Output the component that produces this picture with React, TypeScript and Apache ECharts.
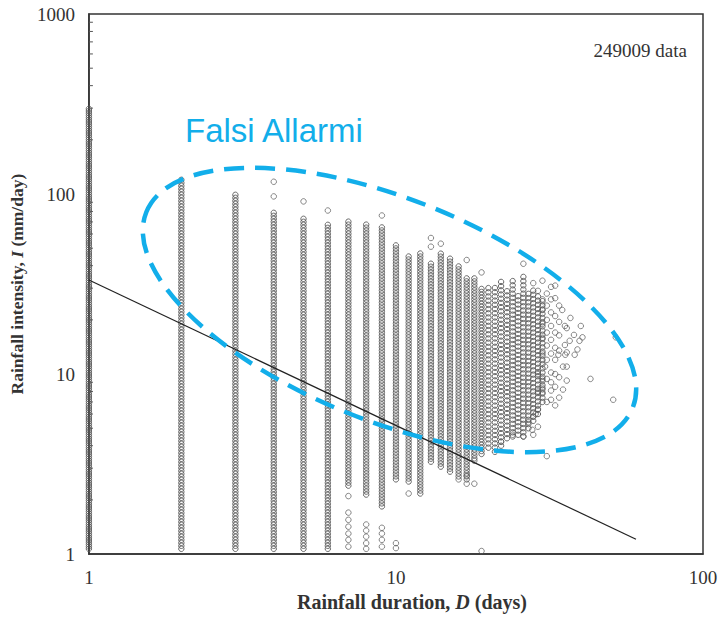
import React, { useEffect, useRef } from "react";
import * as echarts from "echarts";

// Dense columns of observations: duration D (days), lowest and highest intensity I (mm/day)
const columnDurations = [1, 2, 3, 4, 5, 6, 7, 8, 9, 10, 11, 12, 13, 14, 15, 16, 17, 18, 19, 20, 21, 22, 23, 24, 25, 26, 27, 28, 29, 30];
const columnHigh = [300, 122, 100, 81, 75, 70, 71, 68, 66, 53, 46, 48, 42, 47, 45, 40, 34, 34, 30, 31, 31, 34, 30, 33, 28, 35, 28, 30, 28, 26];
const columnLow = [1.07, 1.07, 1.07, 1.07, 1.07, 1.07, 2.4, 2.14, 1.84, 2.6, 2.53, 2.17, 3.26, 3.06, 2.87, 2.7, 2.6, 3.4, 3.6, 3.9, 3.7, 4.0, 4.4, 4.5, 4.6, 4.5, 5.0, 5.5, 6.0, 7.0];

// Isolated observations outside the dense columns
const outlierPoints: [number, number][] = [
  [4, 117], [4, 97], [5, 91], [6, 81], [9, 76], [13, 57], [13, 51], [14, 53], [17, 43], [19, 36.7], [26, 41],
  [7, 2.1], [7, 1.7], [7, 1.55], [7, 1.42], [7, 1.3], [7, 1.2], [7, 1.1],
  [8, 1.46], [8, 1.35], [8, 1.25], [8, 1.15], [8, 1.07],
  [9, 1.4], [9, 1.3], [9, 1.2], [9, 1.1],
  [10, 1.15], [10, 1.08], [11, 2.17], [16, 2.6], [17, 2.73], [17, 2.46], [18, 2.46], [19, 1.04], [18, 3.3],
];

// Scattered cloud of long-duration events
const cloudPoints: [number, number][] = [
  [28, 32], [29, 29], [30, 33], [30, 26], [30, 22.7], [30, 19], [30, 15.9], [30, 13],
  [31, 28], [31, 24], [31, 20], [31, 17], [31, 14.4], [31, 12],
  [32, 30.5], [32, 26], [32, 22], [32, 18.5], [32, 15.5], [32, 13], [32, 10.2],
  [33, 31], [33, 26.4], [33, 21], [33, 17], [33, 14], [33, 12], [33, 10], [33.8, 12.8],
  [34, 24], [34, 19.5], [34, 16.4], [34, 13.5],
  [34.8, 22.7], [35.5, 18.5], [35.5, 14.5], [36, 18], [36, 13.2], [36.8, 15.3], [37, 20.5],
  [38, 16.5], [38.2, 12.8], [39, 13.7], [39.6, 15.3], [40, 18.5], [40.5, 16],
  [27, 5.4], [27.8, 4.9], [28, 5.8], [28, 4.6], [28.5, 6.0], [29, 6.4], [29, 5.1], [29, 8], [29, 10],
  [30, 7.9], [30, 8.4], [30, 9.4], [30.6, 11], [31, 9.4], [31, 7.0], [32, 8.1], [32, 7.2], [32, 9],
  [33, 6.7], [33, 8.5], [34, 7.4], [34, 9.6], [35, 8.2], [35, 11], [35.6, 12.8], [36, 9.2], [36, 11],
  [43, 9.4], [51, 7.2], [52, 16], [31, 3.5], [24, 4.6], [22, 4.2], [26, 4.5],
];

// Threshold line I = f(D)
const fitLine: [number, number][] = [[1, 33.3], [60.5, 1.21]];

const yMinorTicks = [2, 3, 4, 5, 6, 7, 8, 9, 20, 30, 40, 50, 60, 70, 80, 90, 200, 300, 400, 500, 600, 700, 800, 900];

const CYAN = "#12aeea";
const SERIF = "'Liberation Serif', 'DejaVu Serif', serif";
const CIRCLE_STROKE = "#585858";

export default function App() {
  const ref = useRef<HTMLDivElement>(null);

  useEffect(() => {
    const chart = echarts.init(ref.current!, null, { renderer: "svg" });
    const columns = columnDurations.map((d, i) => [d, columnLow[i], columnHigh[i]]);

    chart.setOption({
      animation: false,
      backgroundColor: "#ffffff",
      grid: {
        left: 88,
        right: 21,
        top: 14,
        bottom: 59,
        show: true,
        borderColor: "#333",
        borderWidth: 1.5,
      },
      xAxis: {
        type: "log",
        logBase: 10,
        min: 1,
        max: 100,
        name: "{b|Rainfall duration, }{i|D}{b| (days)}",
        nameLocation: "middle",
        nameGap: 35,
        nameTextStyle: {
          padding: [0, 0, 0, 32],
          rich: {
            b: { fontFamily: SERIF, fontWeight: "bold", fontSize: 20, color: "#333" },
            i: { fontFamily: SERIF, fontWeight: "bold", fontStyle: "italic", fontSize: 20, color: "#333" },
          },
        },
        axisLine: { show: true, lineStyle: { color: "#333", width: 1.5 } },
        axisTick: { show: false },
        splitLine: { show: false },
        axisLabel: {
          fontFamily: SERIF,
          fontSize: 19,
          color: "#333",
          margin: 14,
          formatter: (v: number) => String(v),
        },
      },
      yAxis: {
        type: "log",
        logBase: 10,
        min: 1,
        max: 1000,
        name: "{b|Rainfall intensity, }{i|I}{b| (mm/day)}",
        nameLocation: "middle",
        nameGap: 51,
        nameTextStyle: {
          rich: {
            b: { fontFamily: SERIF, fontWeight: "bold", fontSize: 17.5, color: "#333" },
            i: { fontFamily: SERIF, fontWeight: "bold", fontStyle: "italic", fontSize: 17.5, color: "#333" },
          },
        },
        axisLine: { show: true, lineStyle: { color: "#333", width: 1.5 } },
        axisTick: { show: false },
        splitLine: { show: false },
        axisLabel: {
          fontFamily: SERIF,
          fontSize: 19,
          color: "#333",
          margin: 14,
          formatter: (v: number) => String(v),
        },
      },
      series: [
        {
          type: "custom",
          name: "minorTicks",
          data: yMinorTicks.map((v) => [1, v]),
          encode: { x: 0, y: 1 },
          clip: false,
          silent: true,
          renderItem: (params: any, api: any) => {
            const p = api.coord([api.value(0), api.value(1)]);
            return {
              type: "line",
              shape: { x1: p[0], y1: p[1], x2: p[0] + 4, y2: p[1] },
              style: { stroke: "#555", lineWidth: 1 },
            };
          },
        },
        {
          type: "custom",
          name: "columns",
          data: columns,
          encode: { x: 0, y: [1, 2] },
          clip: false,
          renderItem: (params: any, api: any) => {
            const d = api.value(0);
            const lo = api.value(1);
            const hi = api.value(2);
            const pTop = api.coord([d, hi]);
            const pBot = api.coord([d, lo]);
            const step = d === 1 ? 2.2 : d >= 20 ? 4.2 : 3;
            const children: any[] = [];
            for (let y = pBot[1]; y >= pTop[1] - 0.01; y -= step) {
              children.push({
                type: "circle",
                shape: { cx: pTop[0], cy: y, r: 2.7 },
                style: { fill: "none", stroke: CIRCLE_STROKE, lineWidth: 0.9 },
              });
            }
            return { type: "group", children };
          },
        },
        {
          type: "scatter",
          name: "outliers",
          data: outlierPoints.concat(cloudPoints),
          symbol: "circle",
          symbolSize: 5.5,
          itemStyle: { color: "rgba(0,0,0,0)", borderColor: CIRCLE_STROKE, borderWidth: 0.9 },
        },
        {
          type: "line",
          name: "threshold",
          data: fitLine,
          showSymbol: false,
          symbol: "none",
          lineStyle: { color: "#222", width: 1.2 },
          z: 5,
        },
      ],
      graphic: [
        {
          type: "text",
          right: 37,
          top: 41,
          style: { text: "249009 data", font: `19px ${SERIF}`, fill: "#333" },
        },
        {
          type: "text",
          left: 185,
          top: 114,
          style: { text: "Falsi Allarmi", font: "33px 'Liberation Sans', Arial, sans-serif", fill: CYAN },
        },
        {
          type: "ellipse",
          x: 389.5,
          y: 310,
          rotation: -0.383,
          shape: { cx: 0, cy: 0, rx: 262, ry: 111 },
          style: { fill: "none", stroke: CYAN, lineWidth: 4.5, lineDash: [20, 11] },
          z: 100,
        },
      ],
    });

    return () => chart.dispose();
  }, []);

  return (
    <div
      ref={ref}
      style={{ position: "fixed", left: 0, top: 0, width: 724, height: 617, background: "#fff" }}
    />
  );
}
